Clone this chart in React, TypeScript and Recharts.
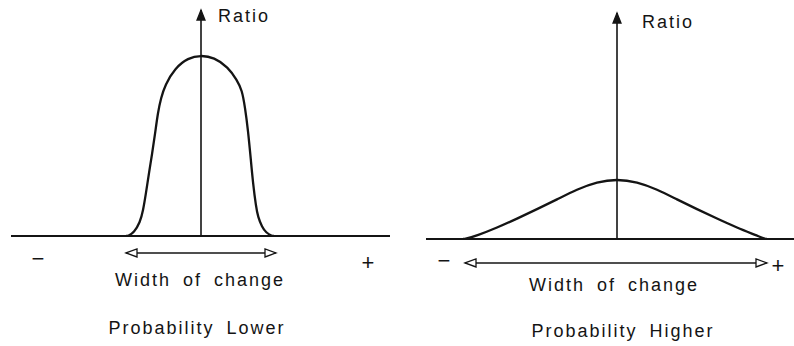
import React from "react";
import { LineChart, Line, XAxis, YAxis, ReferenceLine, ReferenceDot } from "recharts";

// narrow distribution (left panel): offset from centre vs ratio
const lowerOffset = [-75, -73, -67, -61, -58, -55, -52, -49, -46, -43, -40, -36, -26, -13, 0, 13, 27, 36, 41, 44, 47, 50, 52, 55, 57, 61, 65, 71, 73];
const lowerRatio = [0, 0, 1.5, 6, 11, 19, 28, 36, 45, 55, 61, 66.8, 74.3, 78.8, 80, 79, 74.8, 69, 64.6, 57, 47, 33, 23.5, 13, 8.4, 4, 1.5, 0, 0];

// wide distribution (right panel)
const higherOffset = [-154, -152, -140, -120, -100, -80, -60, -40, -20, 0, 20, 40, 60, 80, 100, 120, 140, 148, 150];
const higherRatio = [0, 0, 1.5, 5, 9, 13.2, 17.5, 22, 25.3, 26.5, 25.3, 22, 17.5, 13.2, 9, 5, 1.5, 0, 0];

const panelTitles = ["Probability Lower", "Probability Higher"];
const axisTitle = "Ratio";
const widthLabel = "Width of change";

const lowerData = lowerOffset.map((x, i) => ({ x, ratio: lowerRatio[i] }));
const higherData = higherOffset.map((x, i) => ({ x, ratio: higherRatio[i] }));

const INK = "#141414";

// line with arrow heads drawn at its end (and start if both)
const arrowLine = (both: boolean, len: number, half: number, filled: boolean) => (p: any) => {
  const { x1, y1, x2, y2 } = p;
  const head = (tx: number, ty: number, fx: number, fy: number) => {
    const a = Math.atan2(ty - fy, tx - fx);
    const bx = tx - len * Math.cos(a);
    const by = ty - len * Math.sin(a);
    const nx = -Math.sin(a) * half;
    const ny = Math.cos(a) * half;
    return (
      <polygon
        points={`${tx},${ty} ${bx + nx},${by + ny} ${bx - nx},${by - ny}`}
        fill={filled ? INK : "#fff"}
        stroke={INK}
        strokeWidth={1.3}
        strokeLinejoin="miter"
      />
    );
  };
  return (
    <g>
      <line x1={x1} y1={y1} x2={x2} y2={y2} stroke={INK} strokeWidth={1.6} />
      {head(x2, y2, x1, y1)}
      {both ? head(x1, y1, x2, y2) : null}
    </g>
  );
};

const textLabel = (value: string, size = 18) => ({
  value,
  position: "center" as const,
  fill: INK,
  fontSize: size,
});

interface PanelProps {
  data: { x: number; ratio: number }[];
  domain: [number, number];
  margin: { top: number; right: number; bottom: number; left: number };
  left: number;
  width: number;
  spread: [number, number];
  arrowY: number;
  title: string;
  ratioPos: [number, number];
  minusPos: [number, number];
  plusPos: [number, number];
  widthPos: [number, number];
  titlePos: [number, number];
}

function Panel(props: PanelProps) {
  const { data, domain, margin, left, width, spread, arrowY, title } = props;
  return (
    <div style={{ position: "absolute", left, top: 0 }}>
      <LineChart width={width} height={346} data={data} margin={margin}>
        <XAxis type="number" dataKey="x" domain={domain} allowDataOverflow hide />
        <YAxis type="number" domain={[0, 100]} allowDataOverflow hide />
        <ReferenceLine y={0} stroke={INK} strokeWidth={2} />
        <ReferenceLine
          segment={[
            { x: 0, y: 0 },
            { x: 0, y: 100 },
          ]}
          shape={arrowLine(false, 10, 4, true)}
        />
        <Line
          type="basis"
          dataKey="ratio"
          stroke={INK}
          strokeWidth={2.3}
          dot={false}
          activeDot={false}
          isAnimationActive={false}
        />
        <ReferenceLine
          ifOverflow="visible"
          segment={[
            { x: spread[0], y: arrowY },
            { x: spread[1], y: arrowY },
          ]}
          shape={arrowLine(true, 11, 4, false)}
        />
        <ReferenceDot x={props.ratioPos[0]} y={props.ratioPos[1]} r={0} ifOverflow="visible" fill="none" stroke="none" label={textLabel(axisTitle)} />
        <ReferenceDot x={props.minusPos[0]} y={props.minusPos[1]} r={0} ifOverflow="visible" fill="none" stroke="none" label={textLabel("−", 22)} />
        <ReferenceDot x={props.plusPos[0]} y={props.plusPos[1]} r={0} ifOverflow="visible" fill="none" stroke="none" label={textLabel("+", 22)} />
        <ReferenceDot x={props.widthPos[0]} y={props.widthPos[1]} r={0} ifOverflow="visible" fill="none" stroke="none" label={textLabel(widthLabel)} />
        <ReferenceDot x={props.titlePos[0]} y={props.titlePos[1]} r={0} ifOverflow="visible" fill="none" stroke="none" label={textLabel(title)} />
      </LineChart>
    </div>
  );
}

export default function App(): JSX.Element {
  return (
    <div
      style={{
        position: "absolute",
        left: 0,
        top: 0,
        width: 794,
        height: 346,
        background: "#fff",
        fontFamily: "'Liberation Sans', Arial, sans-serif",
        letterSpacing: "2px",
        wordSpacing: "5px",
      }}
    >
      <Panel
        data={lowerData}
        domain={[-190, 189]}
        margin={{ top: 10, right: 10, bottom: 110, left: 11 }}
        left={0}
        width={400}
        spread={[-75, 75]}
        arrowY={-7.5}
        title={panelTitles[0]}
        ratioPos={[43, 97.3]}
        minusPos={[-162, -9.7]}
        plusPos={[168, -11.5]}
        widthPos={[-1, -19.5]}
        titlePos={[-4, -40.7]}
      />
      <Panel
        data={higherData}
        domain={[-191, 177]}
        margin={{ top: 13, right: 0, bottom: 107, left: 26 }}
        left={400}
        width={394}
        spread={[-152, 150]}
        arrowY={-10.6}
        title={panelTitles[1]}
        ratioPos={[51, 96]}
        minusPos={[-172, -9.3]}
        plusPos={[162, -11.5]}
        widthPos={[-3, -20.4]}
        titlePos={[6, -40.7]}
      />
    </div>
  );
}
